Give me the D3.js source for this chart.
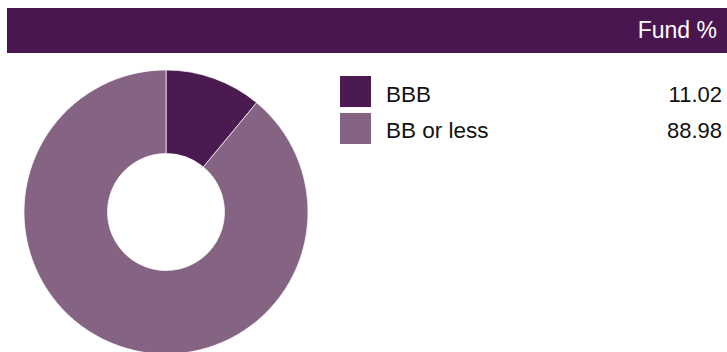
<!DOCTYPE html>
<html>
<head>
<meta charset="utf-8">
<script src="https://cdn.jsdelivr.net/npm/d3@7"></script>
<style>
  body { margin: 0; background: #fff; }
  svg text { font-family: "Liberation Sans", Arial, sans-serif; }
</style>
</head>
<body>
<svg id="chart" width="727" height="352"></svg>
<script>
// chart data
const categories = ["BBB", "BB or less"];
const fundValues = [11.02, 88.98];
const colors = ["#4a1a50", "#846383"];
const headerLabel = "Fund %";

const svg = d3.select("#chart");

// header bar
svg.append("rect")
    .attr("x", 7).attr("y", 8)
    .attr("width", 720).attr("height", 45)
    .attr("fill", "#4a1650");

svg.append("text")
    .attr("x", 717).attr("y", 38)
    .attr("text-anchor", "end")
    .attr("fill", "#fff")
    .style("font-size", "23px")
    .text(headerLabel);

// donut
const pie = d3.pie().sort(null).value(d => d);
const arc = d3.arc().innerRadius(58.5).outerRadius(142);

const g = svg.append("g").attr("transform", "translate(166,212)");
g.selectAll("path")
    .data(pie(fundValues))
    .enter()
    .append("path")
    .attr("d", arc)
    .attr("fill", (d, i) => colors[i])
    .attr("stroke", "#fff")
    .attr("stroke-width", 0.7);

// legend rows
const y = d3.scaleBand()
    .domain(categories)
    .range([76, 144])
    .paddingInner(0.16);

const rows = svg.selectAll("g.legend")
    .data(categories)
    .enter()
    .append("g")
    .attr("class", "legend")
    .attr("transform", d => `translate(0,${y(d)})`);

rows.append("rect")
    .attr("x", 340).attr("y", 0)
    .attr("width", 31).attr("height", y.bandwidth())
    .attr("fill", (d, i) => colors[i]);

rows.append("text")
    .attr("x", 386).attr("y", 25.5)
    .attr("fill", "#111")
    .style("font-size", "22.5px")
    .text(d => d);

rows.append("text")
    .attr("x", 722).attr("y", 25.5)
    .attr("text-anchor", "end")
    .attr("fill", "#111")
    .style("font-size", "22px")
    .text((d, i) => fundValues[i].toFixed(2));
</script>
</body>
</html>
